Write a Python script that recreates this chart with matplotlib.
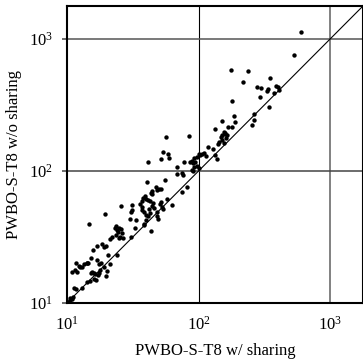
import numpy as np
import matplotlib
matplotlib.use("Agg")
import matplotlib.pyplot as plt

# ---- data (runtime, w/ sharing vs w/o sharing) ----
with_sharing = [
    600, 536, 175, 237, 217, 352, 279, 299, 389, 403, 340, 334, 410, 373, 292,
    180, 342, 263, 185, 265, 151, 189, 167, 180, 256, 134, 155, 160, 150, 158,
    165, 148, 163, 150, 144, 155, 141, 118, 128, 133, 139, 110, 107, 113,
    57, 84,
    100, 102, 96.5, 92.6, 89.5, 86.4, 93.7, 90, 97.7, 92.1, 101, 91, 88.4,
    77.8, 68.8, 74.2, 75.6, 68, 82, 74.2,
    41.2, 52, 59.5, 53.6, 58.8, 40.5, 55.5,
    47.7, 44, 43.2, 44.5, 48.3, 50, 51.8, 39.3, 37.8, 39.8, 41.5, 42.7, 36.9,
    35.9, 37.3, 36.9, 38.4, 41.9, 44, 45.2, 46.1, 42.7, 39.8, 57.5, 52, 63.1,
    50.5, 53, 53.9, 48.5, 25.6, 31, 31.2, 30.4, 33.6, 30.1, 41.2, 39.6, 38.2,
    49.1, 48, 38.4, 43.5, 32.8, 19.6, 14.7,
    23.6, 24.7, 23.2, 24, 25.7, 24.5, 26.2, 23.7, 21.1, 22, 25.3, 26.8, 24.8,
    30.6,
    15.8, 16.8, 18.3, 19.1, 19.7, 20.6, 23.8, 14.1, 14.5, 15.3, 16.8, 17.5,
    18.1, 10.85, 11.6, 12, 12.6, 12.9, 11.8, 12.3, 13.5, 14.3, 15.4, 16.1,
    16.3, 16.1, 16.5, 17.2, 17.8, 17.5, 15.1, 19.8, 20.2, 21.2, 19.1, 15,
    14.3, 11.3, 11.7, 13.1, 10.6, 11.1, 10.5, 10.2, 10.85,
]
without_sharing = [
    1137, 760, 585, 568, 469, 503, 432, 427, 442, 435, 415, 403, 410, 393, 361,
    338, 304, 268, 262, 245, 241, 237, 216, 215, 222, 208, 198, 194, 189, 191,
    189, 181, 178, 173, 166, 163, 161, 153, 146, 133, 123, 137, 135, 131,
    182, 183,
    135, 132, 128, 125, 120, 118, 116, 115, 110, 107, 105, 99.5, 102,
    116, 108, 96.6, 92.6, 94.8, 75.6, 69.2,
    118, 123, 125, 140, 135, 83.2, 85.4,
    75.1, 70.9, 68.2, 66.5, 71.3, 73.4, 72.5, 64.2, 62, 61.3, 60.5, 59.5, 58.8,
    55.8, 53.3, 50.9, 48.8, 51.8, 53.9, 57.1, 52.4, 48, 46.6, 60.9, 57.8, 55.2,
    56.1, 53.3, 51.4, 49.1, 54.2, 55.5, 50.9, 49.1, 42.9, 43.2, 45.8, 42.7, 39.8,
    43.5, 45.8, 39.3, 35.2, 36.7, 47.1, 39.6,
    38.4, 37.3, 36.9, 35.9, 36.3, 34.8, 33.8, 32.6, 30.8, 31.4, 31.5, 31, 31.2,
    31.5,
    25.4, 27.1, 28.1, 26.5, 26.9, 23.2, 23.2, 20.2, 20, 21.8, 21.2, 19.7,
    20.2, 17.3, 17.8, 17.2, 18.6, 18.9, 20, 19.2, 19.7, 20, 17.3, 17,
    16.5, 15.1, 15, 16.4, 17.8, 17, 16.8, 16.1, 17.6, 19.6, 18.9, 14.7,
    14.3, 12.9, 12.7, 13.1, 10.85, 11.2, 10.5, 10.2, 10.7,
]
axis_min = 10
axis_max = 10 ** 3.25
tick_vals = [10, 100, 1000]
tick_labels = [r"$\mathregular{10^{1}}$", r"$\mathregular{10^{2}}$", r"$\mathregular{10^{3}}$"]

# ---- style ----
plt.rcParams["font.family"] = ["Liberation Serif", "DejaVu Serif"]
plt.rcParams["mathtext.fontset"] = "custom"
plt.rcParams["mathtext.rm"] = "Liberation Serif"

fig = plt.figure(figsize=(3.63, 3.59), dpi=100)
ax = fig.add_axes([67 / 363, 56 / 359, 296 / 363, 297 / 359])

ax.set_xscale("log")
ax.set_yscale("log")
ax.set_xlim(axis_min, axis_max)
ax.set_ylim(axis_min, axis_max)

# grid lines at decades
ax.axvline(100, color="black", lw=0.8, zorder=1)
ax.axvline(1000, color="#777777", lw=1.3, zorder=1)
ax.axhline(100, color="#444444", lw=1.1, zorder=1)
ax.axhline(1000, color="#555555", lw=1.1, zorder=1)

# y = x reference line
ax.plot([axis_min, axis_max], [axis_min, axis_max], color="black", lw=0.8, zorder=2)

ax.scatter(with_sharing, without_sharing, s=10, color="black", linewidths=0, zorder=3)

ax.set_xticks(tick_vals)
ax.set_xticklabels(tick_labels)
ax.set_yticks(tick_vals)
ax.set_yticklabels(tick_labels)
ax.minorticks_off()
ax.tick_params(axis="both", labelsize=12)
ax.tick_params(axis="x", length=0, pad=9)
ax.tick_params(axis="y", length=3.8, width=1.1, color="#444444", pad=6)

for sp in ax.spines.values():
    sp.set_linewidth(1.5)
    sp.set_color("black")

ax.set_xlabel("PWBO-S-T8 w/ sharing", fontsize=12, labelpad=7)
ax.set_ylabel("PWBO-S-T8 w/o sharing", fontsize=12, labelpad=5)

fig.savefig("out.png", dpi=100)
